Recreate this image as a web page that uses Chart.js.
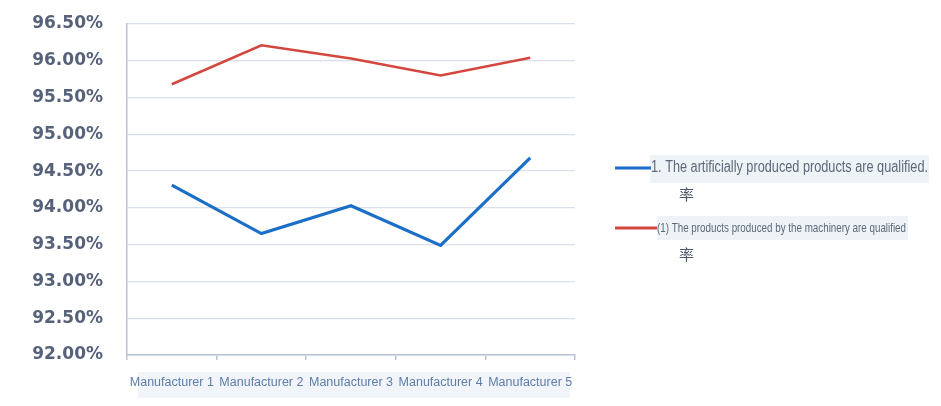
<!DOCTYPE html>
<html>
<head>
<meta charset="utf-8">
<script src="https://cdn.jsdelivr.net/npm/chart.js@4.4.1/dist/chart.umd.min.js"></script>
<style>
  html, body { margin: 0; padding: 0; background: #fff; }
  #wrap { width: 941px; height: 406px; }
</style>
</head>
<body>
<div id="wrap"><canvas id="myChart" width="941" height="406"></canvas></div>
<script>
// data
var categories = ['Manufacturer 1', 'Manufacturer 2', 'Manufacturer 3', 'Manufacturer 4', 'Manufacturer 5'];
var manualRate = [94.31, 93.65, 94.03, 93.49, 94.68];
var machineRate = [95.68, 96.21, 96.03, 95.80, 96.04];
var seriesNames = ['1. The artificially produced products are qualified.', '(1) The products produced by the machinery are qualified'];
var seriesSuffix = '率';
var yTicks = [92, 92.5, 93, 93.5, 94, 94.5, 95, 95.5, 96, 96.5];

var blue = '#1b6fc6';
var red = '#d4473f';

// squeeze text into a width (the original uses a narrow font)
function fitText(ctx, text, x, y, w) {
  var m = ctx.measureText(text).width;
  ctx.save();
  ctx.translate(x, y);
  ctx.scale(w / m, 1);
  ctx.fillText(text, 0, 0);
  ctx.restore();
}

var decor = {
  id: 'decor',
  beforeDraw: function (chart) {
    var ctx = chart.ctx;
    ctx.save();
    // pale box behind the category labels
    ctx.fillStyle = '#f1f5f9';
    ctx.fillRect(138, 372, 432, 26);
    ctx.restore();
  },
  afterDraw: function (chart) {
    var ctx = chart.ctx;
    var sets = chart.data.datasets;
    ctx.save();
    // legend
    ctx.fillStyle = '#eef3f8';
    ctx.fillRect(650, 155, 279, 28);
    ctx.fillRect(657, 216, 251, 24);
    ctx.strokeStyle = sets[0].borderColor;
    ctx.lineWidth = 3;
    ctx.beginPath(); ctx.moveTo(615, 168); ctx.lineTo(651, 168); ctx.stroke();
    ctx.strokeStyle = sets[1].borderColor;
    ctx.lineWidth = 3;
    ctx.beginPath(); ctx.moveTo(615, 228); ctx.lineTo(657, 228); ctx.stroke();

    ctx.fillStyle = '#5d6878';
    ctx.textBaseline = 'middle';
    ctx.font = '16px "Liberation Sans"';
    fitText(ctx, sets[0].label, 651, 168, 277);
    ctx.font = '13px "Liberation Sans"';
    fitText(ctx, sets[1].label, 657, 228, 249);

    ctx.fillStyle = '#4a5566';
    ctx.font = '15px "Noto Sans CJK SC"';
    ctx.fillText(seriesSuffix, 679, 194);
    ctx.fillText(seriesSuffix, 679, 254);
    ctx.restore();
  }
};

var ctx = document.getElementById('myChart');
new Chart(ctx, {
  type: 'line',
  data: {
    labels: categories,
    datasets: [{
      label: seriesNames[0],
      data: manualRate,
      borderColor: blue,
      borderWidth: 3.2,
      pointRadius: 0,
      tension: 0
    }, {
      label: seriesNames[1],
      data: machineRate,
      borderColor: red,
      borderWidth: 2.6,
      pointRadius: 0,
      tension: 0
    }]
  },
  options: {
    responsive: false,
    animation: false,
    events: [],
    layout: { padding: { top: 24, right: 366, bottom: 0, left: 0 } },
    plugins: {
      legend: { display: false },
      tooltip: { enabled: false }
    },
    scales: {
      x: {
        offset: true,
        afterFit: function (s) { s.height = 51; },
        border: { color: '#b8c2d4', width: 1.5 },
        grid: {
          offset: true,
          drawOnChartArea: false,
          drawTicks: true,
          tickLength: 5,
          color: '#b8c2d4',
          lineWidth: 1.5
        },
        ticks: {
          padding: 15,
          maxRotation: 0,
          autoSkip: false,
          color: '#5d7dab',
          font: { family: '"Liberation Sans"', size: 12.5 }
        }
      },
      y: {
        min: 92,
        max: 96.5,
        afterFit: function (s) { s.width = 127; s.paddingTop = 0; s.paddingBottom = 0; },
        afterBuildTicks: function (s) {
          s.ticks = yTicks.map(function (v) { return { value: v }; });
        },
        border: { color: '#b8c2d4', width: 1.5 },
        grid: {
          drawTicks: false,
          color: '#d9e0ec',
          lineWidth: 1.3
        },
        ticks: {
          padding: 24,
          color: '#56627a',
          font: { family: '"DejaVu Sans"', size: 17, weight: 'bold' },
          callback: function (v) { return v.toFixed(2) + '%'; }
        }
      }
    }
  },
  plugins: [decor]
});
</script>
</body>
</html>
